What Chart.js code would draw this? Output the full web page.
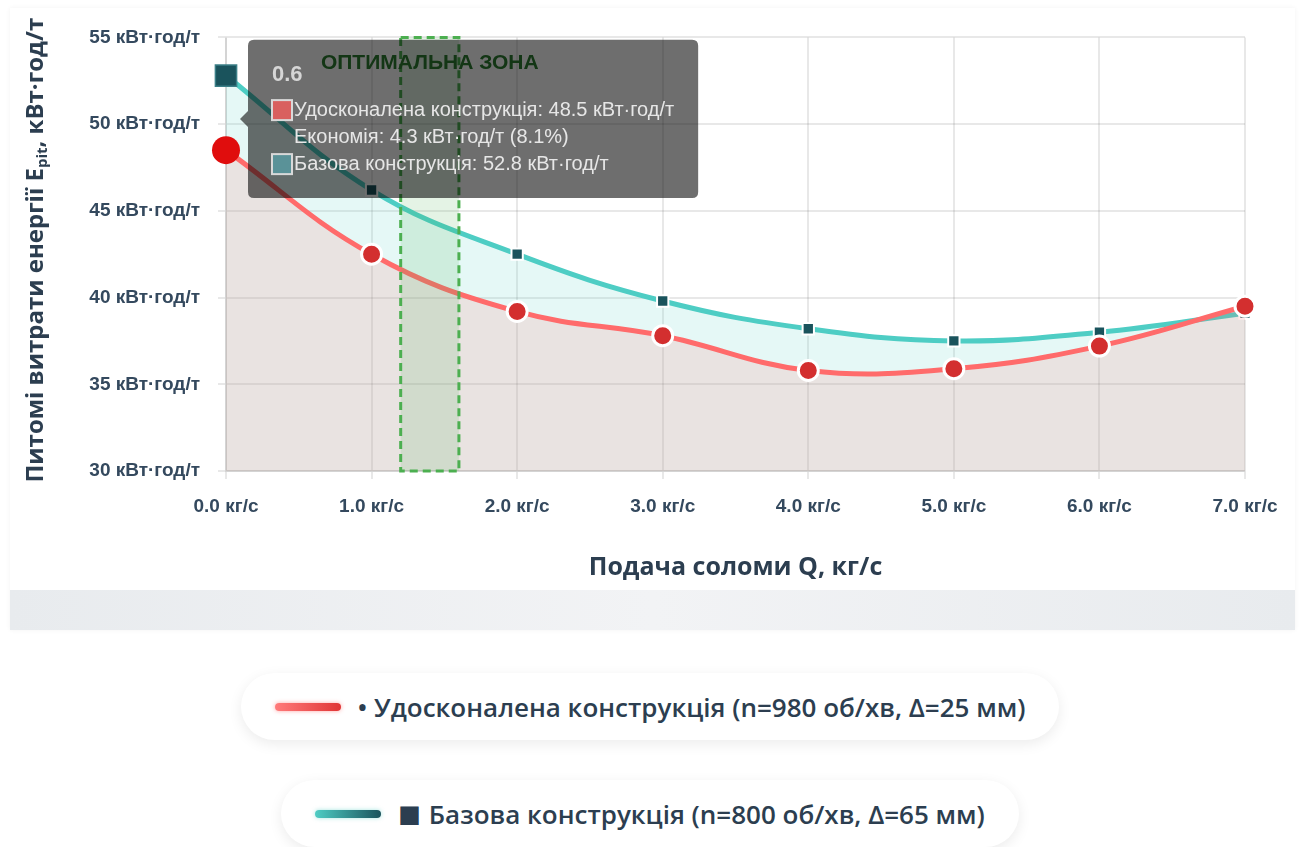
<!DOCTYPE html>
<html lang="uk">
<head>
<meta charset="utf-8">
<title>Питомі витрати енергії</title>
<script src="https://cdn.jsdelivr.net/npm/chart.js@4.4.1/dist/chart.umd.min.js"></script>
<style>
  html, body { margin: 0; padding: 0; background: #fff; }
  body { width: 1300px; height: 847px; overflow: hidden; position: relative; font-family: "Open Sans", sans-serif; }
  .chart-card {
    position: absolute; left: 10px; top: 8px; width: 1285px; height: 622px;
    background: linear-gradient(90deg, #e8ebee 0%, #f2f3f5 50%, #e8ebee 100%);
    box-shadow: 0 0 5px rgba(0, 0, 0, 0.05);
  }
  .chart-wrap { position: relative; width: 1285px; height: 582px; background: #fff; }
  .legend { position: absolute; left: 0; top: 673px; width: 1300px; display: flex; flex-direction: column; align-items: center; gap: 40px; }
  .legend-item {
    display: flex; align-items: center; height: 67px; padding: 0 34px; box-sizing: border-box;
    background: #fff; border-radius: 34px; box-shadow: 0 4px 14px rgba(0, 0, 0, 0.08);
    font-family: "Open Sans", sans-serif; font-weight: 600; font-size: 26px; color: #2c3e50;
  }
  .legend-item .swatch { width: 66px; height: 8px; border-radius: 4px; margin-right: 17px; flex: none; }
  .legend-item .mark-sq { font-family: "DejaVu Sans", sans-serif; font-size: 24px; margin-right: 8px; }
  .swatch.improved { background: linear-gradient(90deg, #ff7b7b, #e03535); box-shadow: 0 0 4px rgba(255, 80, 80, 0.5); }
  .swatch.base { background: linear-gradient(90deg, #4ecdc4, #1a535c); box-shadow: 0 0 4px rgba(78, 205, 196, 0.5); }
</style>
</head>
<body>
<div class="chart-card">
  <div class="chart-wrap"><canvas id="energyChart"></canvas></div>
</div>
<div class="legend">
  <div class="legend-item"><span class="swatch improved"></span><span>• Удосконалена конструкція (n=980 об/хв, Δ=25 мм)</span></div>
  <div class="legend-item"><span class="swatch base"></span><span class="mark-sq">■</span><span>Базова конструкція (n=800 об/хв, Δ=65 мм)</span></div>
</div>
<script>
// подача соломи, кг/с (підписи тултіпа) та підписи осі X
const feedRates = ['0.6', '1.0', '1.5', '2.0', '2.5', '3.0', '3.5', '4.0'];
const xTickLabels = ['0.0 кг/с', '1.0 кг/с', '2.0 кг/с', '3.0 кг/с', '4.0 кг/с', '5.0 кг/с', '6.0 кг/с', '7.0 кг/с'];
// питомі витрати енергії, кВт·год/т
const improvedEnergy = [48.5, 42.5, 39.2, 37.8, 35.8, 35.9, 37.2, 39.5];
const baseEnergy = [52.8, 46.2, 42.5, 39.8, 38.2, 37.5, 38.0, 39.1];
const yTicks = [30, 35, 40, 45, 50, 55];
const optimalZone = [1.2, 1.6];

Chart.defaults.font.family = "'Liberation Sans', Arial, sans-serif";

// тултіп ставимо по x точок, а по y — за курсором
Chart.Tooltip.positioners.pointer = function (items, eventPosition) {
  const avg = Chart.Tooltip.positioners.average.call(this, items);
  if (!avg) return false;
  return { x: avg.x, y: eventPosition.y };
};

const zonePlugin = {
  id: 'optimalZone',
  afterDatasetsDraw(chart) {
    const { ctx, chartArea, scales } = chart;
    const x0 = scales.x.getPixelForValue(optimalZone[0]);
    const x1 = scales.x.getPixelForValue(optimalZone[1]);
    const h = chartArea.bottom - chartArea.top;
    ctx.save();
    ctx.fillStyle = 'rgba(76, 175, 80, 0.15)';
    ctx.fillRect(x0, chartArea.top, x1 - x0, h);
    ctx.setLineDash([8, 5]);
    ctx.lineWidth = 3;
    ctx.strokeStyle = '#4caf50';
    ctx.strokeRect(x0, chartArea.top, x1 - x0, h);
    ctx.setLineDash([]);
    ctx.font = "bold 21px 'Liberation Sans', Arial, sans-serif";
    ctx.fillStyle = '#2e7d32';
    ctx.textAlign = 'center';
    ctx.textBaseline = 'middle';
    ctx.fillText('ОПТИМАЛЬНА ЗОНА', (x0 + x1) / 2, chartArea.top + 26);
    ctx.restore();
  }
};

// заголовок осі Y з нижнім індексом
const yTitlePlugin = {
  id: 'yTitle',
  afterDraw(chart) {
    const { ctx, chartArea } = chart;
    const parts = [
      { text: 'Питомі витрати енергії E', font: "bold 24px 'Open Sans'", dy: 0 },
      { text: 'pit', font: "bold 15px 'Open Sans'", dy: 7 },
      { text: ', кВт·год/т', font: "bold 24px 'Open Sans'", dy: 0 }
    ];
    ctx.save();
    let total = 0;
    parts.forEach(p => { ctx.font = p.font; p.w = ctx.measureText(p.text).width; total += p.w; });
    ctx.translate(26, (chartArea.top + chartArea.bottom) / 2 - 4);
    ctx.rotate(-Math.PI / 2);
    ctx.fillStyle = '#2c3e50';
    ctx.textBaseline = 'middle';
    let x = -total / 2;
    parts.forEach(p => { ctx.font = p.font; ctx.fillText(p.text, x, p.dy); x += p.w; });
    ctx.restore();
  }
};

const tickFont = { size: 19, weight: 'bold' };
const swatchColors = ['#d9605f', '#5a9298'];

const chart = new Chart(document.getElementById('energyChart'), {
  type: 'line',
  data: {
    labels: feedRates,
    datasets: [{
      label: 'Удосконалена конструкція',
      data: improvedEnergy,
      borderColor: '#ff6b6b',
      backgroundColor: 'rgba(255, 107, 107, 0.15)',
      borderWidth: 5,
      tension: 0.4,
      fill: 'start',
      pointRadius: 10,
      pointBackgroundColor: '#d32f2f',
      pointBorderColor: '#fff',
      pointBorderWidth: 3,
      pointHoverRadius: 14,
      pointHoverBackgroundColor: '#e00d0d',
      pointHoverBorderColor: '#e00d0d',
      pointHoverBorderWidth: 0
    }, {
      label: 'Базова конструкція',
      data: baseEnergy,
      borderColor: '#4ecdc4',
      backgroundColor: 'rgba(78, 205, 196, 0.15)',
      borderWidth: 5,
      tension: 0.4,
      fill: 'start',
      pointStyle: 'rect',
      pointRadius: 8,
      pointBackgroundColor: '#1a535c',
      pointBorderColor: '#fff',
      pointBorderWidth: 2,
      pointHoverRadius: 15,
      pointHoverBackgroundColor: '#1a535c',
      pointHoverBorderColor: '#3b7f87',
      pointHoverBorderWidth: 1.5
    }]
  },
  options: {
    responsive: true,
    maintainAspectRatio: false,
    animation: false,
    events: [],
    interaction: { mode: 'index', intersect: false },
    layout: { padding: { top: 26, right: 50, bottom: 0, left: 26 } },
    scales: {
      x: {
        grid: { color: 'rgba(0, 0, 0, 0.09)', lineWidth: 2, tickLength: 8 },
        border: { color: 'rgba(0, 0, 0, 0.09)', width: 2 },
        ticks: {
          padding: 16,
          color: '#34495e',
          font: tickFont,
          maxRotation: 0,
          callback: (value, index) => xTickLabels[index]
        },
        title: {
          display: true,
          text: 'Подача соломи Q, кг/с',
          color: '#2c3e50',
          font: { family: "'Open Sans'", size: 25, weight: 'bold' },
          padding: { top: 0, bottom: 7 }
        },
        afterFit(axis) { axis.height = 119; }
      },
      y: {
        min: yTicks[0],
        max: yTicks[yTicks.length - 1],
        grid: { color: 'rgba(0, 0, 0, 0.09)', lineWidth: 2, tickLength: 8 },
        border: { color: 'rgba(0, 0, 0, 0.09)', width: 2 },
        afterBuildTicks(axis) { axis.ticks = yTicks.map(v => ({ value: v })); },
        ticks: {
          padding: 18,
          color: '#34495e',
          font: tickFont,
          callback: value => value + ' кВт·год/т'
        },
        afterFit(axis) { axis.width = 190; }
      }
    },
    plugins: {
      legend: { display: false },
      tooltip: {
        position: 'pointer',
        xAlign: 'left',
        yAlign: 'center',
        backgroundColor: 'rgba(0, 0, 0, 0.57)',
        titleColor: '#d6d6d6',
        bodyColor: '#e6e6e6',
        titleFont: { size: 22, weight: 'bold' },
        bodyFont: { size: 20 },
        titleMarginBottom: 10,
        bodySpacing: 3,
        padding: { top: 22, bottom: 22, left: 24, right: 24 },
        caretSize: 8,
        caretPadding: 14,
        cornerRadius: 6,
        boxWidth: 20,
        boxHeight: 20,
        multiKeyBackground: '#d9d9d9',
        callbacks: {
          title: items => feedRates[items[0].dataIndex],
          label: item => `${item.dataset.label}: ${item.parsed.y.toFixed(1)} кВт·год/т`,
          afterLabel: item => {
            if (item.datasetIndex !== 0) return '';
            const i = item.dataIndex;
            const saving = baseEnergy[i] - improvedEnergy[i];
            return `Економія: ${saving.toFixed(1)} кВт·год/т (${(saving / baseEnergy[i] * 100).toFixed(1)}%)`;
          },
          labelColor: item => ({ borderColor: '#d9d9d9', backgroundColor: swatchColors[item.datasetIndex], borderWidth: 2 })
        }
      }
    }
  },
  plugins: [zonePlugin, yTitlePlugin]
});

// активна перша точка обох серій
const active = [{ datasetIndex: 0, index: 0 }, { datasetIndex: 1, index: 0 }];
chart.setActiveElements(active);
chart.tooltip.setActiveElements(active, { x: chart.scales.x.getPixelForValue(0), y: chart.scales.y.getPixelForValue(50.3) });
chart.update();
</script>
</body>
</html>
